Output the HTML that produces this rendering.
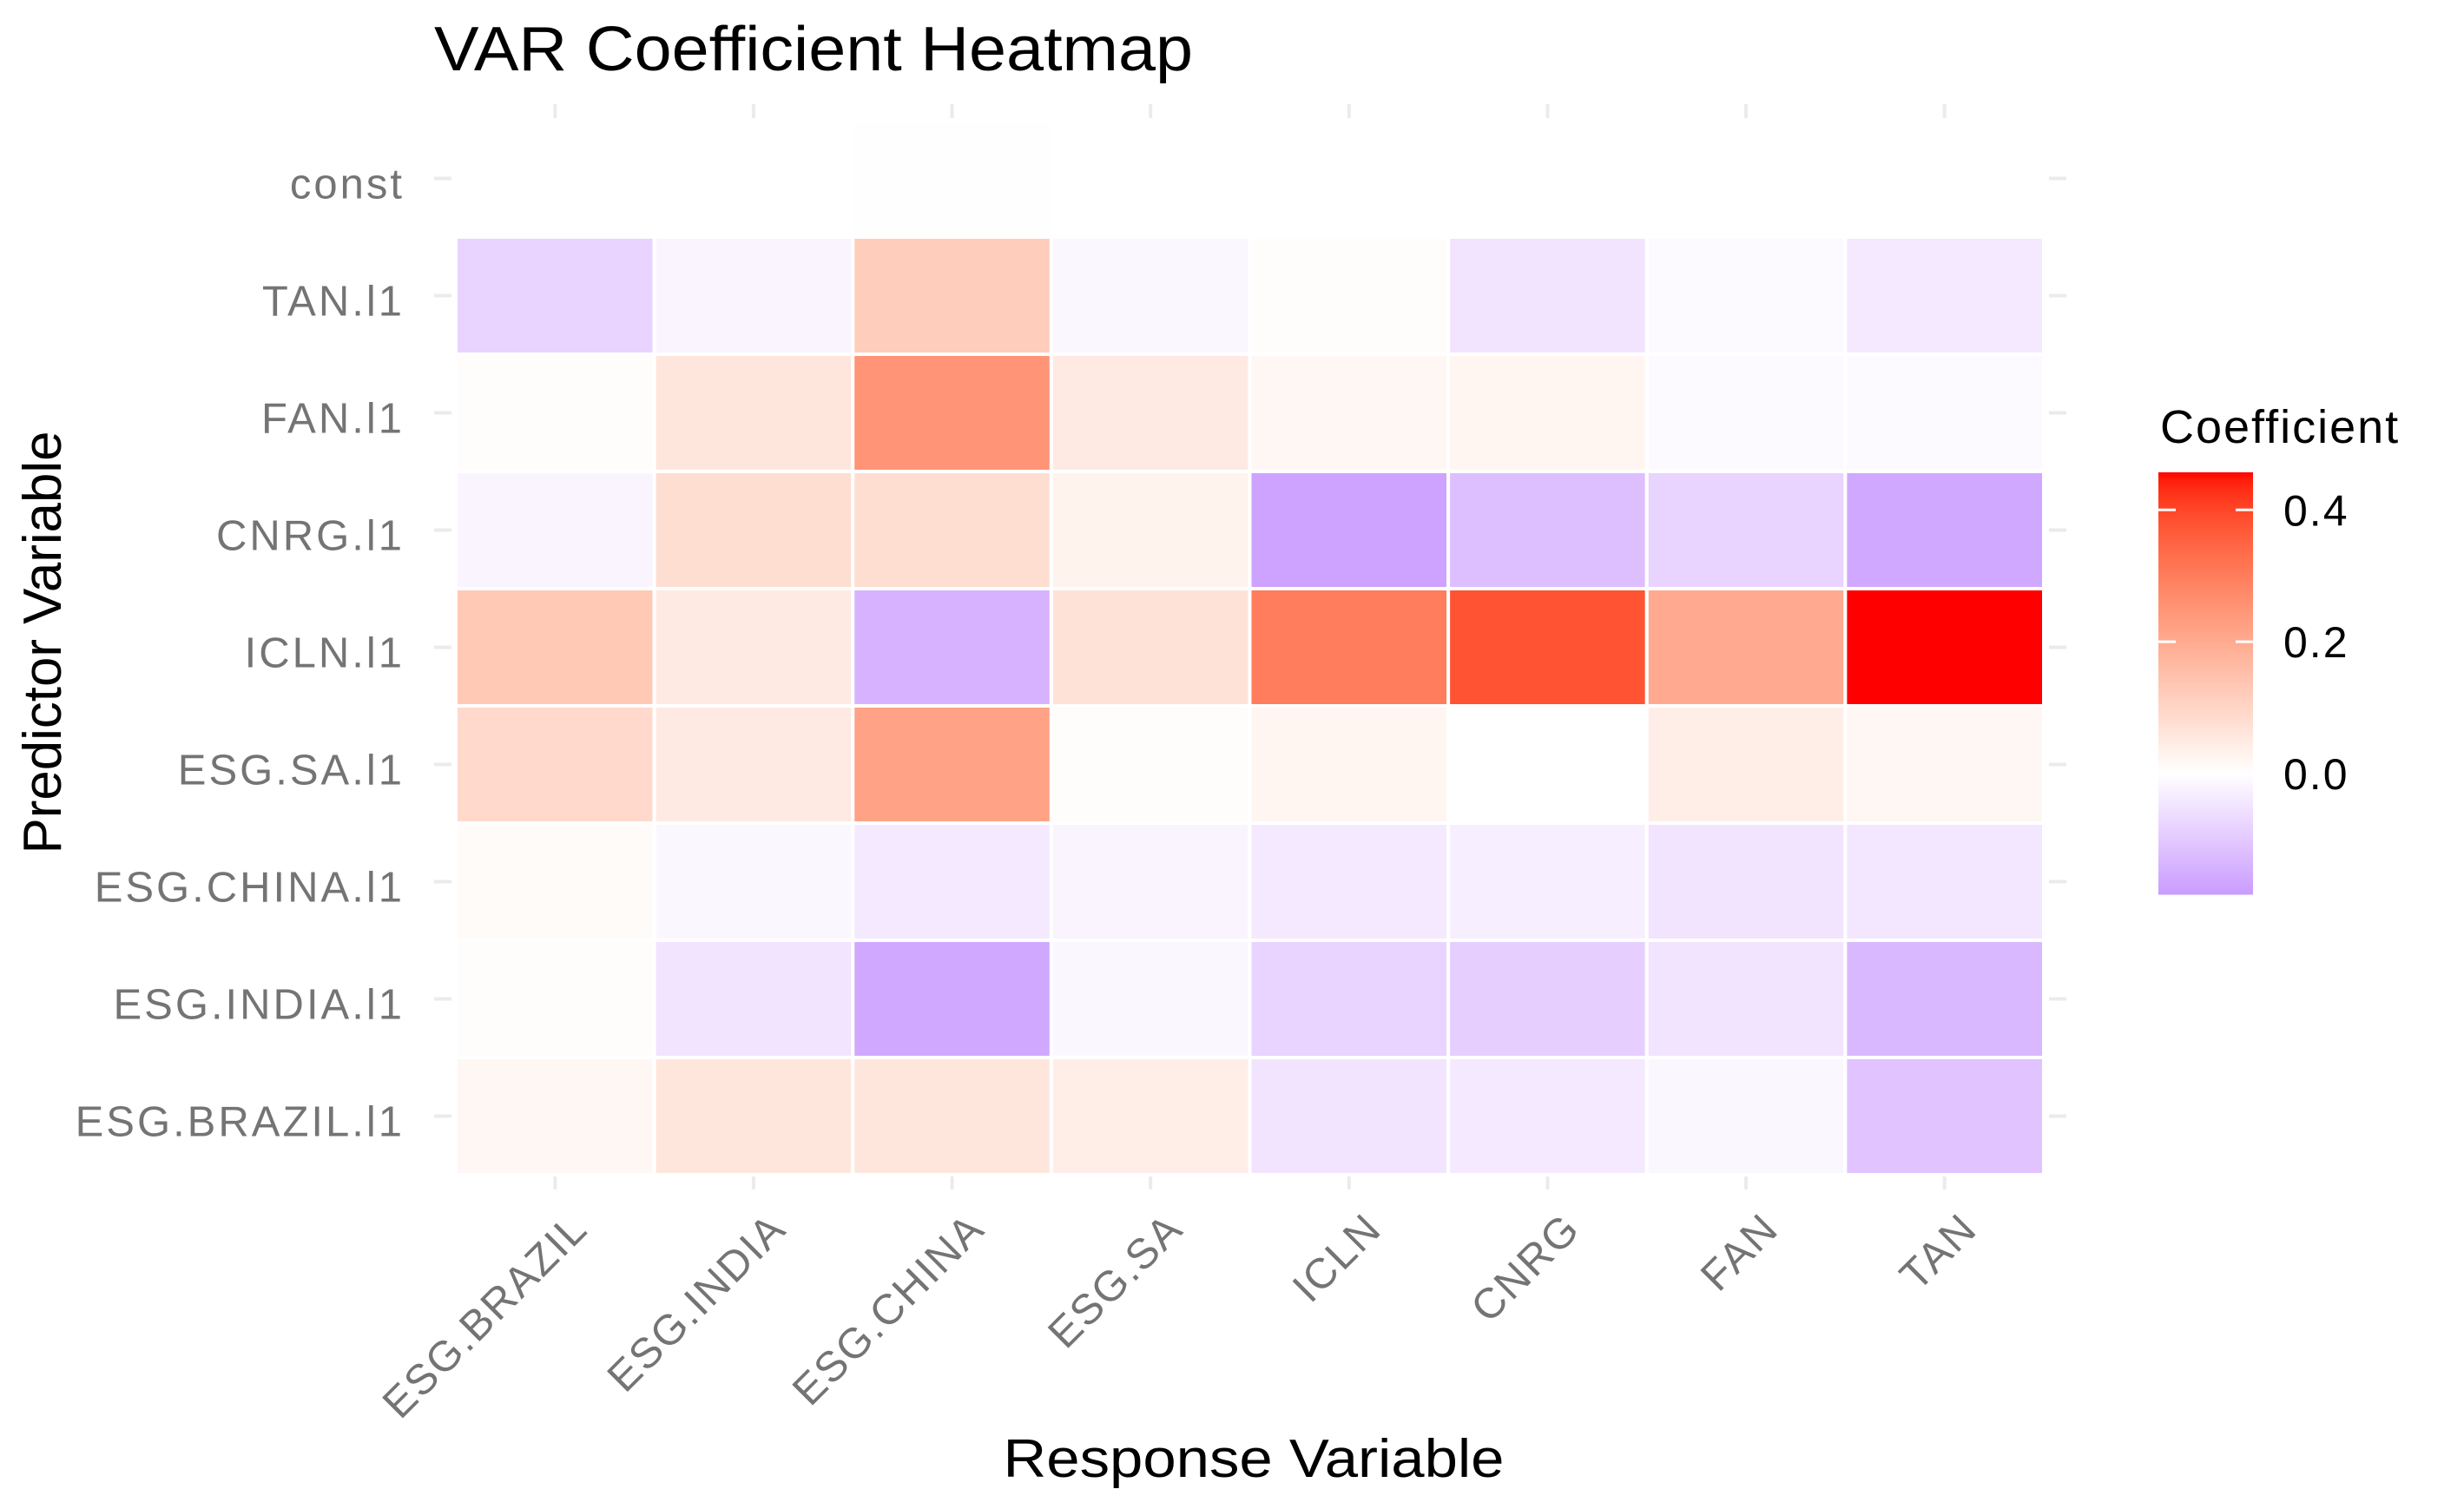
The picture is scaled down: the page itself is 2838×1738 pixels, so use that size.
<!DOCTYPE html>
<html><head><meta charset="utf-8"><style>
html,body{margin:0;padding:0;background:#fff;}
svg{display:block;font-family:"Liberation Sans",Arial,sans-serif;}
</style></head><body>
<svg id="chart" xmlns="http://www.w3.org/2000/svg" width="2838" height="1738" viewBox="0 0 2838 1738">
<rect width="2838" height="1738" fill="#fff"/>
<g id="grid"></g><g id="tiles"></g><g id="ylabels"></g><g id="xlabels"></g><g id="legend"></g>
<text x="500" y="81" font-size="72" textLength="874" lengthAdjust="spacingAndGlyphs" fill="#000">VAR Coefficient Heatmap</text>
<text x="1444" y="1701" font-size="62" text-anchor="middle" textLength="577" lengthAdjust="spacingAndGlyphs" fill="#000">Response Variable</text>
<text transform="translate(70,740) rotate(-90)" font-size="62" text-anchor="middle" textLength="487" lengthAdjust="spacingAndGlyphs" fill="#000">Predictor Variable</text>
<text x="2488" y="510" font-size="54" fill="#000" letter-spacing="2">Coefficient</text>
</svg>
<script>
const responses = ["ESG.BRAZIL","ESG.INDIA","ESG.CHINA","ESG.SA","ICLN","CNRG","FAN","TAN"];
const predictors = ["const","TAN.l1","FAN.l1","CNRG.l1","ICLN.l1","ESG.SA.l1","ESG.CHINA.l1","ESG.INDIA.l1","ESG.BRAZIL.l1"];
const rowConst   = [0, 0, -0.002, 0, 0, 0, 0, 0];
const rowTAN     = [-0.08, -0.02, 0.12, -0.015, 0.005, -0.05, -0.01, -0.04];
const rowFAN     = [0.005, 0.06, 0.25, 0.05, 0.02, 0.025, -0.01, -0.01];
const rowCNRG    = [-0.02, 0.08, 0.08, 0.03, -0.17, -0.12, -0.08, -0.16];
const rowICLN    = [0.13, 0.05, -0.14, 0.07, 0.30, 0.38, 0.20, 0.457];
const rowESGSA   = [0.09, 0.05, 0.22, 0.005, 0.025, 0.0, 0.04, 0.02];
const rowESGCHINA= [0.01, -0.015, -0.04, -0.02, -0.04, -0.03, -0.05, -0.045];
const rowESGINDIA= [0.005, -0.05, -0.16, -0.015, -0.08, -0.09, -0.05, -0.13];
const rowESGBRAZIL=[0.02, 0.06, 0.06, 0.04, -0.05, -0.04, -0.015, -0.11];
const legendTicks = [0.4, 0.2, 0.0];
const legendTickLabels = ["0.4","0.2","0.0"];
const valueMin = -0.183, valueMax = 0.457;

const rows = [rowConst,rowTAN,rowFAN,rowCNRG,rowICLN,rowESGSA,rowESGCHINA,rowESGINDIA,rowESGBRAZIL];
const NS="http://www.w3.org/2000/svg";
const X0=525, X1=2354, Y0=138, Y1=1353;
const cw=(X1-X0)/responses.length, rh=(Y1-Y0)/predictors.length;
const xPos=i=>X0+i*cw, yPos=j=>Y0+j*rh;

function toLab(h){const c=[1,3,5].map(k=>parseInt(h.substr(k,2),16)/255).map(v=>v<=0.04045?v/12.92:Math.pow((v+0.055)/1.055,2.4));
 let x=(c[0]*0.4124+c[1]*0.3576+c[2]*0.1805)/0.95047,y=c[0]*0.2126+c[1]*0.7152+c[2]*0.0722,z=(c[0]*0.0193+c[1]*0.1192+c[2]*0.9505)/1.08883;
 const f=t=>t>0.008856?Math.cbrt(t):7.787*t+16/116;x=f(x);y=f(y);z=f(z);return[116*y-16,500*(x-y),200*(y-z)];}
function fromLab(L){let y=(L[0]+16)/116,x=L[1]/500+y,z=y-L[2]/200;const g=t=>t*t*t>0.008856?t*t*t:(t-16/116)/7.787;
 x=g(x)*0.95047;y=g(y);z=g(z)*1.08883;let r=x*3.2406+y*-1.5372+z*-0.4986,gg=x*-0.9689+y*1.8758+z*0.0415,b=x*0.0557+y*-0.2040+z*1.0570;
 return "rgb("+[r,gg,b].map(v=>{v=v>0.0031308?1.055*Math.pow(v,1/2.4)-0.055:12.92*v;return Math.round(Math.max(0,Math.min(1,v))*255);}).join(",")+")";}
const labW=toLab("#ffffff"),labR=toLab("#ff0000"),labP=toLab("#c99cff");
function color(v){let t,e;if(v>=0){t=Math.min(1,v/valueMax);e=labR;}else{t=Math.min(1,v/valueMin);e=labP;}
 return fromLab(labW.map((a,k)=>a+(e[k]-a)*t));}

const grid=document.getElementById('grid');
function line(x1,y1,x2,y2,name){const l=document.createElementNS(NS,'line');
 l.setAttribute('x1',x1);l.setAttribute('y1',y1);l.setAttribute('x2',x2);l.setAttribute('y2',y2);
 l.setAttribute('stroke','#ebebeb');l.setAttribute('stroke-width','4');
 
 
 grid.appendChild(l);}
responses.forEach((r,i)=>{const cx=xPos(i)+cw/2;line(cx,120,cx,136,'x-tick-top');line(cx,1355,cx,1370,'x-tick-bottom');});
predictors.forEach((p,j)=>{const cy=yPos(j)+rh/2;line(500,cy,520,cy,'y-tick-left');line(2360,cy,2380,cy,'y-tick-right');});

const tiles=document.getElementById('tiles');
rows.forEach((vals,j)=>vals.forEach((v,i)=>{const r=document.createElementNS(NS,'rect');
 r.setAttribute('x',xPos(i));r.setAttribute('y',yPos(j));r.setAttribute('width',cw);r.setAttribute('height',rh);
 r.setAttribute('fill',color(v));r.setAttribute('stroke','#fff');r.setAttribute('stroke-width','4');
 
 
 tiles.appendChild(r);}));

const yl=document.getElementById('ylabels');
predictors.forEach((p,j)=>{const t=document.createElementNS(NS,'text');
 t.setAttribute('x',466);t.setAttribute('y',yPos(j)+rh/2+23);t.setAttribute('text-anchor','end');
 t.setAttribute('font-size','49');t.setAttribute('fill','#747474');t.setAttribute('letter-spacing','3');
 t.textContent=p;
 
 
 yl.appendChild(t);});
const xl=document.getElementById('xlabels');
responses.forEach((r,i)=>{const t=document.createElementNS(NS,'text');const ax=xPos(i)+cw/2+40,ay=1418;
 t.setAttribute('transform','translate('+ax+','+ay+') rotate(-45)');t.setAttribute('text-anchor','end');
 t.setAttribute('font-size','49');t.setAttribute('fill','#747474');t.setAttribute('letter-spacing','2');
 t.textContent=r;
 
 
 xl.appendChild(t);});

// legend
const lg=document.getElementById('legend');
const LX=2486,LW=109,LT=544,LB=1030;
const ly=v=>LT+(valueMax-v)/(valueMax-valueMin)*(LB-LT);
for(let y=LT;y<LB;y+=2){const v=valueMax-(y+1-LT)/(LB-LT)*(valueMax-valueMin);const r=document.createElementNS(NS,'rect');
 r.setAttribute('x',LX);r.setAttribute('y',y);r.setAttribute('width',LW);r.setAttribute('height',2.5);r.setAttribute('fill',color(v));
 
 
 lg.appendChild(r);}
legendTicks.forEach((v,k)=>{const y=ly(v);
 [[LX,LX+20],[LX+LW-20,LX+LW]].forEach(s=>{const l=document.createElementNS(NS,'line');
  l.setAttribute('x1',s[0]);l.setAttribute('x2',s[1]);l.setAttribute('y1',y);l.setAttribute('y2',y);l.setAttribute('stroke','#fff');l.setAttribute('stroke-width','3');
  
  
  lg.appendChild(l);});
 const t=document.createElementNS(NS,'text');t.setAttribute('x',2630);t.setAttribute('y',y+18);t.setAttribute('font-size','50');t.setAttribute('fill','#000');t.setAttribute('letter-spacing','2');
 t.textContent=legendTickLabels[k];
 
 
 lg.appendChild(t);});
</script>
</body></html>
